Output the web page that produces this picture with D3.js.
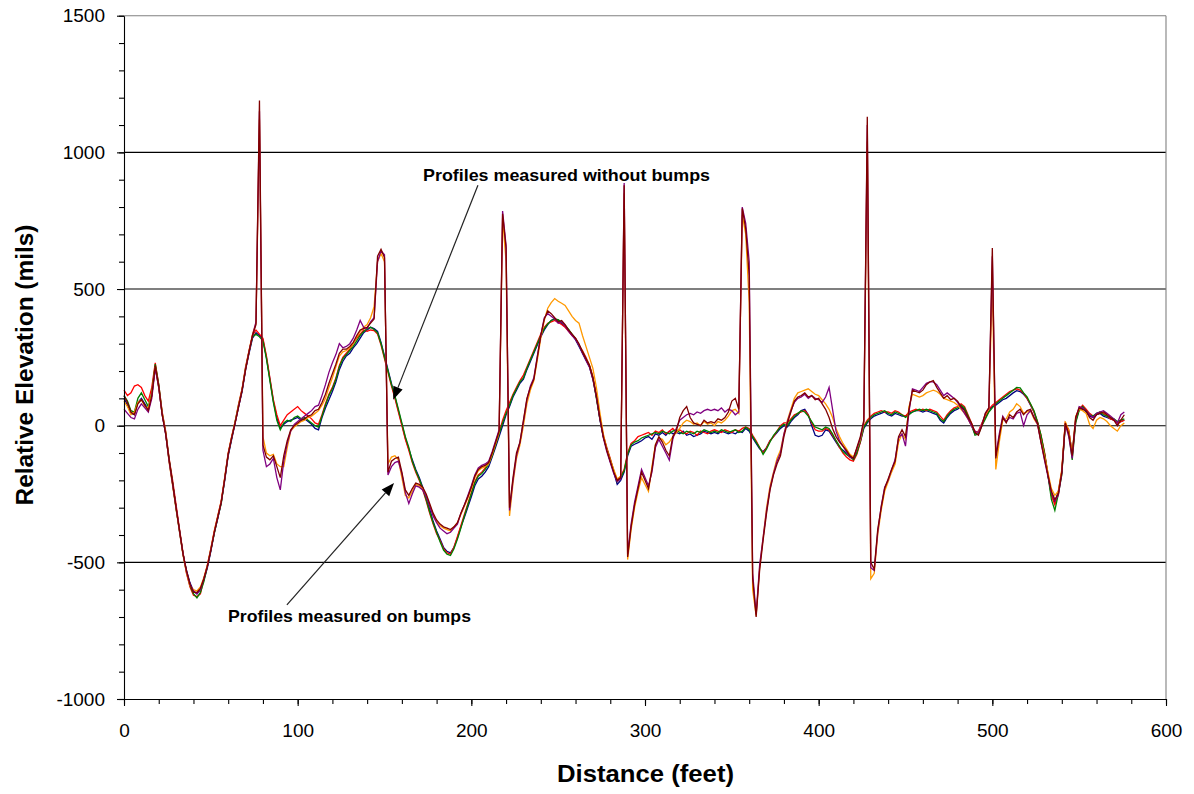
<!DOCTYPE html>
<html>
<head>
<meta charset="utf-8">
<script src="https://cdn.jsdelivr.net/npm/d3@7"></script>
<style>
  body { margin: 0; background: #fff; }
  svg { display: block; font-family: Arial, "Liberation Sans", sans-serif; }
</style>
</head>
<body>
<svg id="chart" width="1194" height="794"></svg>
<script>
// distance along the profile (feet)
const distanceFt = [
  0,2,4,6,8,10,12,14,16,18,
  20,22,24,26,28,30,32,34,36,38,
  40,42,44,46,48,50,52,54,56,58,
  60,62,64,66,68,70,72,74,76,78,
  80,82,84,86,88,90,92,94,96,98,
  100,102,104,106,108,110,112,114,116,118,
  120,122,124,126,128,130,132,134,136,138,
  140,142,144,146,148,150,152,154,156,158,
  160,162,164,166,168,170,172,174,176,178,
  180,182,184,186,188,190,192,194,196,198,
  200,202,204,206,208,210,212,214,216,218,
  220,222,224,226,228,230,232,234,236,238,
  240,242,244,246,248,250,252,254,256,258,
  260,262,264,266,268,270,272,274,276,278,
  280,282,284,286,288,290,292,294,296,298,
  300,302,304,306,308,310,312,314,316,318,
  320,322,324,326,328,330,332,334,336,338,
  340,342,344,346,348,350,352,354,356,358,
  360,362,364,366,368,370,372,374,376,378,
  380,382,384,386,388,390,392,394,396,398,
  400,402,404,406,408,410,412,414,416,418,
  420,422,424,426,428,430,432,434,436,438,
  440,442,444,446,448,450,452,454,456,458,
  460,462,464,466,468,470,472,474,476,478,
  480,482,484,486,488,490,492,494,496,498,
  500,502,504,506,508,510,512,514,516,518,
  520,522,524,526,528,530,532,534,536,538,
  540,542,544,546,548,550,552,554,556,558,
  560,562,564,566,568,570,572,574,576
];

// profiles measured without bumps (mils)
const elevBlue = [
  100,75,45,40,85,100,80,60,110,215,
  140,40,-30,-130,-215,-300,-390,-470,-530,-575,
  -605,-615,-600,-565,-520,-460,-390,-340,-280,-200,
  -110,-50,10,70,125,205,265,320,340,330,
  315,250,170,90,30,-10,5,15,20,25,
  30,20,25,15,5,-10,-15,30,65,95,
  125,160,205,235,255,265,285,300,320,340,
  350,360,355,345,305,255,205,155,105,55,
  5,-45,-85,-125,-160,-190,-225,-265,-305,-350,
  -385,-415,-445,-460,-465,-445,-410,-370,-335,-298,
  -260,-220,-195,-185,-170,-150,-115,-78,-40,0,
  40,70,105,130,155,170,205,235,265,295,
  325,350,370,385,392,385,372,362,350,332,
  315,290,265,240,215,170,105,25,-40,-85,
  -130,-170,-215,-200,-170,-110,-75,-68,-62,-55,
  -45,-40,-50,-30,-35,-25,-35,-20,-30,-25,
  -30,-20,-35,-30,-40,-35,-30,-20,-25,-30,
  -25,-30,-20,-25,-30,-25,-30,-20,-25,-10,
  -20,-45,-65,-85,-95,-80,-55,-40,-25,-10,
  0,-5,15,30,40,55,60,40,0,-35,
  -40,-35,-15,-20,-40,-60,-80,-90,-100,-110,
  -120,-95,-60,-10,10,25,35,40,45,50,
  40,35,45,40,35,35,45,50,55,55,
  50,55,50,45,40,20,10,30,45,55,
  60,70,60,30,0,-30,-25,5,30,55,
  70,75,85,95,100,110,120,128,125,115,
  100,75,50,10,-40,-100,-180,-255,-280,-240,
  -170,0,-20,-100,20,60,65,50,35,30,
  40,45,35,30,25,20,10,15,20
];
const elevGreen = [
  110,90,55,50,100,120,95,70,120,225,
  150,45,-25,-125,-210,-305,-385,-470,-535,-585,
  -615,-630,-610,-570,-515,-455,-395,-335,-285,-195,
  -105,-45,15,75,130,210,270,325,335,325,
  310,245,165,85,20,-15,10,20,15,30,
  35,25,30,20,10,0,-5,35,75,110,
  135,170,215,245,260,275,290,310,330,345,
  355,360,352,340,300,250,200,150,110,60,
  10,-40,-80,-130,-165,-195,-230,-270,-315,-355,
  -390,-425,-455,-470,-475,-450,-415,-375,-330,-290,
  -250,-210,-185,-175,-160,-140,-110,-70,-30,10,
  45,75,110,135,160,175,210,240,270,300,
  330,355,372,385,390,388,378,368,352,335,
  318,295,270,245,220,175,100,25,-40,-85,
  -125,-165,-205,-190,-165,-105,-70,-60,-55,-45,
  -40,-35,-30,-25,-30,-20,-25,-30,-20,-15,
  -25,-30,-20,-25,-30,-20,-25,-15,-20,-25,
  -20,-25,-15,-20,-25,-20,-15,-25,-20,-5,
  -15,-40,-60,-80,-105,-85,-60,-35,-20,-5,
  5,0,20,35,45,55,50,35,15,-5,
  -10,-15,-5,-10,-30,-55,-75,-95,-105,-115,
  -125,-100,-55,-5,15,30,40,45,50,55,
  45,40,50,45,40,30,40,50,55,60,
  55,60,55,50,45,25,15,35,50,60,
  65,75,65,35,5,-35,-30,0,25,50,
  65,80,90,100,110,120,130,140,138,120,
  105,80,55,15,-35,-100,-180,-270,-310,-250,
  -180,5,-25,-125,10,55,70,55,40,35,
  45,50,40,35,30,25,15,20,25
];
const elevRed = [
  130,110,120,145,150,140,110,90,140,230,
  150,50,-20,-120,-200,-290,-380,-465,-540,-590,
  -620,-625,-615,-560,-510,-450,-385,-330,-275,-190,
  -100,-40,15,80,135,215,275,330,350,335,
  320,255,175,95,40,0,20,40,50,60,
  70,55,45,35,25,10,5,40,80,115,
  140,175,220,250,265,280,300,320,335,350,
  345,350,348,335,295,245,195,145,100,50,
  0,-50,-90,-135,-170,-200,-235,-275,-320,-360,
  -395,-420,-450,-465,-470,-445,-405,-365,-325,-285,
  -245,-205,-180,-170,-155,-135,-105,-65,-25,20,
  55,85,115,140,165,185,215,245,275,305,
  335,360,375,380,385,378,370,360,345,330,
  320,295,275,250,222,180,105,30,-35,-80,
  -120,-165,-200,-185,-160,-100,-65,-55,-40,-35,
  -30,-25,-35,-20,-25,-15,-30,-20,-10,-25,
  -15,-25,-30,-20,-25,-35,-20,-25,-30,-20,
  -15,-20,-25,-15,-20,-25,-15,-20,-10,-5,
  -10,-35,-55,-80,-100,-80,-55,-40,-20,0,
  10,10,25,40,45,50,55,40,10,-15,
  -20,-20,-10,-15,-35,-55,-80,-100,-115,-125,
  -130,-105,-60,0,20,35,45,50,55,50,
  50,45,55,50,40,35,50,55,60,55,
  60,55,60,55,50,35,20,40,55,65,
  70,80,70,40,10,-25,-20,10,35,60,
  75,85,95,105,115,125,130,135,130,118,
  100,78,50,15,-35,-95,-175,-255,-290,-245,
  -165,10,-15,-110,15,60,75,60,45,35,
  40,50,45,35,25,20,10,15,20
];

// profiles measured on bumps (mils)
const elevOrange = [
  90,70,40,50,85,95,70,65,115,215,
  140,45,-25,-135,-220,-305,-390,-475,-540,-585,
  -600,-605,-590,-555,-510,-450,-385,-330,-275,-190,
  -100,-40,15,75,135,210,275,335,375,1120,
  -40,-100,-110,-105,-140,-150,-150,-80,-20,-5,
  5,15,20,30,35,45,55,75,100,140,
  175,215,255,270,275,285,300,325,345,360,
  370,395,435,600,630,600,-140,-115,-110,-125,
  -190,-255,-265,-240,-215,-220,-230,-255,-290,-325,
  -350,-365,-375,-380,-385,-370,-355,-325,-295,-265,
  -230,-190,-165,-155,-150,-140,-105,-65,-25,760,
  600,-330,-210,-120,-70,0,80,130,165,240,
  320,385,430,450,465,455,448,440,420,400,
  385,375,330,290,250,210,140,50,-30,-85,
  -125,-160,-195,-185,850,-490,-380,-300,-240,-190,
  -215,-240,-150,-70,-45,-50,-70,-60,-40,-25,
  -10,10,20,15,5,10,0,15,5,10,
  0,15,10,20,35,55,60,45,770,700,
  450,-600,-695,-520,-410,-300,-220,-170,-120,-90,
  -30,20,60,100,120,125,130,135,125,115,
  110,95,80,60,30,-10,-40,-65,-85,-105,
  -115,-85,-50,10,1040,-560,-540,-400,-310,-240,
  -205,-170,-140,-60,-30,-50,70,115,110,105,
  110,120,125,130,125,115,100,95,90,85,
  75,60,45,25,0,-20,-25,5,40,60,
  520,-160,-60,20,25,50,60,80,70,45,
  50,55,25,5,-55,-110,-170,-230,-255,-240,
  -160,15,-20,-100,35,60,55,45,5,-10,
  20,30,25,15,0,-10,-20,0,10
];
const elevPurple = [
  60,45,30,25,60,80,65,50,100,210,
  140,40,-30,-130,-215,-300,-385,-470,-535,-580,
  -605,-615,-600,-560,-515,-455,-390,-335,-280,-195,
  -105,-45,10,70,130,205,270,330,380,1150,
  -90,-150,-140,-120,-190,-235,-130,-65,-20,5,
  15,25,35,45,55,70,75,110,150,195,
  230,260,300,285,290,300,320,350,385,360,
  355,380,395,600,640,625,-180,-150,-135,-130,
  -175,-245,-285,-250,-220,-225,-235,-260,-295,-330,
  -355,-375,-385,-395,-390,-375,-360,-320,-290,-255,
  -220,-180,-155,-145,-140,-130,-95,-55,-15,785,
  660,-310,-200,-110,-60,15,95,145,175,255,
  330,395,410,400,390,375,380,365,345,330,
  315,295,265,240,215,170,105,25,-45,-95,
  -135,-175,-205,-195,888,-470,-360,-280,-220,-160,
  -190,-220,-170,-80,-50,-75,-100,-126,-50,-10,
  20,30,40,45,40,50,45,55,60,55,
  60,55,65,50,60,55,40,50,800,740,
  600,-540,-690,-510,-410,-310,-230,-175,-130,-100,
  -30,15,55,85,100,105,115,100,110,100,
  95,85,105,140,60,-20,-55,-75,-95,-115,
  -120,-85,-45,15,1100,-520,-530,-390,-295,-225,
  -200,-160,-125,-45,-30,-75,50,135,130,125,
  140,155,160,160,150,130,110,120,110,100,
  85,65,45,25,0,-20,-25,5,45,65,
  620,-110,-30,35,15,30,25,45,50,0,
  40,55,30,5,-60,-125,-185,-245,-275,-255,
  -175,5,-40,-120,25,70,65,55,40,30,
  45,50,55,45,35,25,10,40,50
];
const elevMaroon = [
  110,85,50,40,80,95,75,55,110,220,
  145,40,-30,-125,-210,-300,-385,-470,-530,-580,
  -610,-610,-595,-560,-515,-455,-390,-335,-280,-195,
  -105,-45,10,70,130,205,270,330,370,1190,
  -70,-115,-125,-110,-150,-190,-110,-55,-15,0,
  10,20,25,35,40,55,60,85,115,155,
  190,225,265,280,280,290,305,330,350,355,
  360,375,390,620,645,615,-170,-130,-120,-115,
  -170,-235,-255,-230,-210,-215,-225,-250,-285,-320,
  -345,-360,-370,-375,-380,-370,-355,-320,-290,-260,
  -225,-185,-160,-150,-145,-135,-100,-60,-20,775,
  650,-300,-190,-100,-60,20,100,140,170,250,
  330,390,420,410,395,380,385,370,350,335,
  320,300,270,245,220,175,110,30,-40,-90,
  -130,-170,-200,-190,880,-480,-370,-290,-230,-170,
  -200,-230,-160,-70,-40,-60,-90,-110,-40,-20,
  30,55,70,30,10,5,0,20,10,15,
  10,25,20,30,50,90,100,60,795,720,
  550,-560,-700,-530,-420,-320,-235,-180,-140,-110,
  -40,10,50,90,105,110,120,105,110,95,
  100,80,60,30,-10,-40,-60,-75,-90,-110,
  -120,-80,-40,20,1130,-500,-525,-380,-300,-230,
  -195,-160,-130,-40,-15,-40,60,130,125,120,
  130,150,160,165,140,120,100,110,95,100,
  90,70,55,30,10,-25,-35,0,45,65,
  650,-120,-40,30,10,40,30,50,60,40,
  55,60,30,10,-60,-120,-180,-240,-270,-250,
  -170,10,-30,-110,30,65,60,55,30,20,
  40,45,50,40,30,20,0,20,40
];

const yTickValues = [-1000, -500, 0, 500, 1000, 1500];
const xTickValues = [0, 100, 200, 300, 400, 500, 600];
const gridValues = [-500, 0, 500, 1000];

const svg = d3.select('#chart');
const x = d3.scaleLinear().domain([0, 600]).range([124, 1166]);
const y = d3.scaleLinear().domain([-1000, 1500]).range([699, 15.7]);

svg.append('rect').attr('width', 1194).attr('height', 794).attr('fill', '#fff');

// gridlines + plot border
svg.append('g').selectAll('line').data(gridValues).join('line')
    .attr('x1', x(0)).attr('x2', x(600))
    .attr('y1', d => y(d)).attr('y2', d => y(d))
    .attr('stroke', '#000').attr('stroke-width', 1.1);
svg.append('line')
    .attr('x1', x(0)).attr('x2', x(600)).attr('y1', y(1500)).attr('y2', y(1500))
    .attr('stroke', '#808080').attr('stroke-width', 1.1);
svg.append('line')
    .attr('x1', x(600)).attr('x2', x(600)).attr('y1', y(1500)).attr('y2', y(-1000))
    .attr('stroke', '#808080').attr('stroke-width', 1.1);

// profile lines
const series = [
    { values: elevBlue, color: '#000080' },
    { values: elevRed, color: '#ff0000' },
    { values: elevGreen, color: '#008000' },
    { values: elevOrange, color: '#ff9900' },
    { values: elevPurple, color: '#800080' },
    { values: elevMaroon, color: '#800000' }
];
const line = d3.line()
    .x((d, i) => x(distanceFt[i]))
    .y(d => y(d));

svg.append('g').selectAll('path').data(series).join('path')
    .attr('d', d => line(d.values))
    .attr('fill', 'none')
    .attr('stroke', d => d.color)
    .attr('stroke-width', 1.3);

// axes
svg.append('g').attr('transform', `translate(${x(0)},0)`)
    .call(d3.axisLeft(y).tickValues(yTickValues).tickSize(7).tickSizeOuter(0)
        .tickPadding(12).tickFormat(d => String(d)));
svg.append('g').attr('transform', `translate(${x(0)},0)`)
    .call(d3.axisLeft(y).ticks(25).tickSize(5).tickFormat(''))
    .select('.domain').remove();

svg.append('g').attr('transform', `translate(0,${y(-1000)})`)
    .call(d3.axisBottom(x).tickValues(xTickValues).tickSize(7).tickSizeOuter(0)
        .tickPadding(18).tickFormat(d => String(d)));
svg.append('g').attr('transform', `translate(0,${y(-1000)})`)
    .call(d3.axisBottom(x).ticks(30).tickSize(5).tickFormat(''))
    .select('.domain').remove();

svg.selectAll('.domain, .tick line').attr('stroke', '#000').attr('stroke-width', 1.1);
svg.selectAll('.tick text')
    .attr('font-family', 'Arial, "Liberation Sans", sans-serif')
    .attr('font-size', 19).attr('fill', '#000');

// axis titles
svg.append('text')
    .attr('transform', 'translate(33,365) rotate(-90)')
    .attr('text-anchor', 'middle')
    .attr('font-weight', 'bold').attr('font-size', 24)
    .attr('textLength', 281).attr('lengthAdjust', 'spacingAndGlyphs')
    .text('Relative Elevation (mils)');
svg.append('text')
    .attr('x', 645.5).attr('y', 782)
    .attr('text-anchor', 'middle')
    .attr('font-weight', 'bold').attr('font-size', 24)
    .attr('textLength', 177).attr('lengthAdjust', 'spacingAndGlyphs')
    .text('Distance (feet)');

// annotations
const notes = [
    { text: 'Profiles measured without bumps', tx: 423, ty: 181, len: 287, from: [203.8, 880], to: [155, 95] },
    { text: 'Profiles measured on bumps', tx: 228, ty: 622, len: 243, from: [93.8, -656], to: [155.5, -210] }
];
notes.forEach(n => {
    svg.append('text')
        .attr('x', n.tx).attr('y', n.ty)
        .attr('font-weight', 'bold').attr('font-size', 17)
        .attr('textLength', n.len).attr('lengthAdjust', 'spacingAndGlyphs')
        .text(n.text);

    const x1 = x(n.from[0]), y1 = y(n.from[1]);
    const x2 = x(n.to[0]), y2 = y(n.to[1]);
    const ang = Math.atan2(y2 - y1, x2 - x1);
    const headLen = 13, headW = 5;
    const bx = x2 - headLen * Math.cos(ang), by = y2 - headLen * Math.sin(ang);
    svg.append('line')
        .attr('x1', x1).attr('y1', y1).attr('x2', bx).attr('y2', by)
        .attr('stroke', '#222').attr('stroke-width', 1.2);
    const px = -Math.sin(ang) * headW, py = Math.cos(ang) * headW;
    svg.append('path')
        .attr('d', `M${x2},${y2}L${bx + px},${by + py}L${bx - px},${by - py}Z`)
        .attr('fill', '#000');
});
</script>
</body>
</html>
